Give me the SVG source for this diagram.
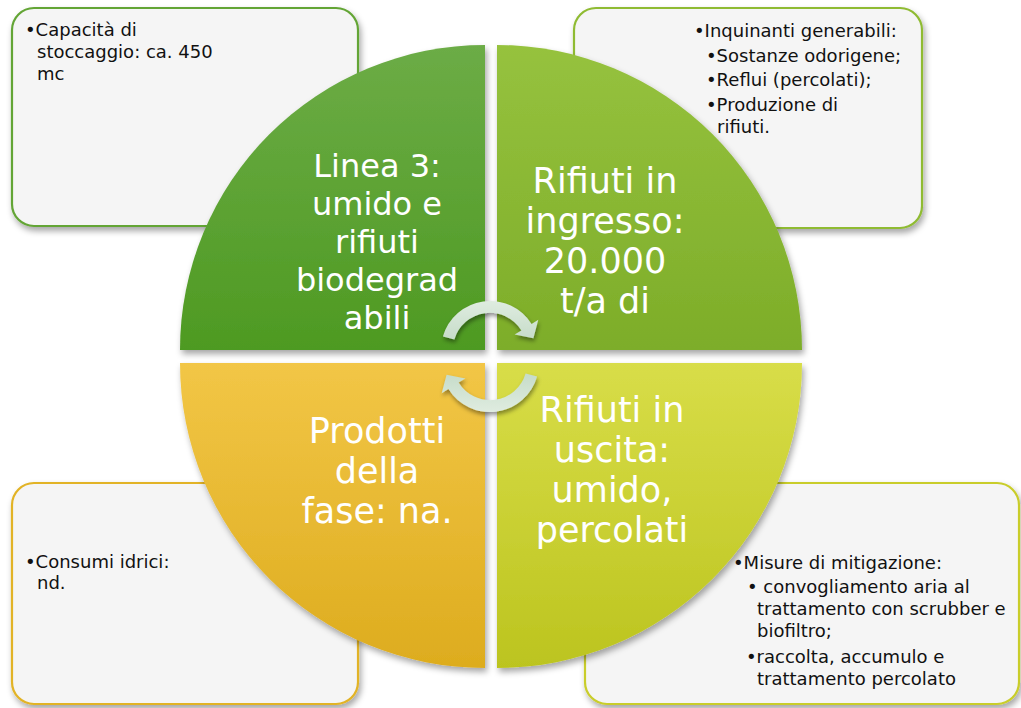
<svg xmlns="http://www.w3.org/2000/svg" width="1021" height="708" viewBox="0 0 1021 708">
<style>
.box{fill:#f5f5f5;stroke-width:2.2}
.bt{font-family:"DejaVu Sans",sans-serif;font-size:18px;fill:#111}
.qt{font-family:"DejaVu Sans",sans-serif;font-size:35px;fill:#ffffff;text-anchor:middle}
.arr{fill:url(#gArr)}
</style>
<defs>
<filter id="sh" x="-10%" y="-10%" width="125%" height="125%">
<feDropShadow dx="2" dy="4" stdDeviation="3" flood-color="#000" flood-opacity="0.35"/>
</filter>
<filter id="shA" x="-20%" y="-20%" width="150%" height="150%">
<feDropShadow dx="1" dy="3" stdDeviation="2" flood-color="#000" flood-opacity="0.4"/>
</filter>
<linearGradient id="gTL" x1="0" y1="0" x2="0" y2="1"><stop offset="0" stop-color="#6cac46"/><stop offset="1" stop-color="#4e9a22"/></linearGradient>
<linearGradient id="gTR" x1="0" y1="0" x2="0" y2="1"><stop offset="0" stop-color="#96c23e"/><stop offset="1" stop-color="#7dad29"/></linearGradient>
<linearGradient id="gBL" x1="0" y1="0" x2="0" y2="1"><stop offset="0" stop-color="#f2c646"/><stop offset="1" stop-color="#ddac1e"/></linearGradient>
<linearGradient id="gBR" x1="0" y1="0" x2="0" y2="1"><stop offset="0" stop-color="#d8dd48"/><stop offset="1" stop-color="#bcc41f"/></linearGradient>
<linearGradient id="gArr" x1="0" y1="0" x2="0" y2="1"><stop offset="0" stop-color="#dfece0"/><stop offset="1" stop-color="#c6dcc9"/></linearGradient>
</defs>

<g id="box-tl">
<rect class="box" x="12" y="8" width="346" height="218" rx="22" stroke="#64a536" filter="url(#sh)"/>
<text class="bt" x="25" y="36">•Capacità di</text>
<text class="bt" x="37" y="58">stoccaggio: ca. 450</text>
<text class="bt" x="37" y="80">mc</text>
</g>
<g id="box-tr">
<rect class="box" x="574" y="8" width="348" height="220" rx="22" stroke="#8fbb33" filter="url(#sh)"/>
<text class="bt" x="694" y="37">•Inquinanti generabili:</text>
<text class="bt" x="706" y="62">•Sostanze odorigene;</text>
<text class="bt" x="706" y="86">•Reflui (percolati);</text>
<text class="bt" x="706" y="111">•Produzione di</text>
<text class="bt" x="717" y="133">rifiuti.</text>
</g>
<g id="box-bl">
<rect class="box" x="12" y="483" width="346" height="221" rx="22" stroke="#e2b325" filter="url(#sh)"/>
<text class="bt" x="25" y="568">•Consumi idrici:</text>
<text class="bt" x="37" y="589">nd.</text>
</g>
<g id="box-br">
<rect class="box" x="585" y="483" width="434" height="221" rx="22" stroke="#c9cd2b" filter="url(#sh)"/>
<text class="bt" x="733" y="569">•Misure di mitigazione:</text>
<text class="bt" x="747" y="593">• convogliamento aria al</text>
<text class="bt" x="757" y="615">trattamento con scrubber e</text>
<text class="bt" x="757" y="637">biofiltro;</text>
<text class="bt" x="746" y="663">•raccolta, accumulo e</text>
<text class="bt" x="757" y="685">trattamento percolato</text>
</g>

<g id="q-tl">
<path d="M485,350 L180,350 A305,305 0 0 1 485,45 Z" fill="url(#gTL)" filter="url(#sh)"/>
<text class="qt" style="font-size:32px" x="377" y="177">Linea 3:</text>
<text class="qt" style="font-size:32px" x="377" y="215">umido e</text>
<text class="qt" style="font-size:32px" x="377" y="253">rifiuti</text>
<text class="qt" style="font-size:32px" x="377" y="291">biodegrad</text>
<text class="qt" style="font-size:32px" x="377" y="329">abili</text>
</g>
<g id="q-tr">
<path d="M497,350 L497,45 A305,305 0 0 1 802,350 Z" fill="url(#gTR)" filter="url(#sh)"/>
<text class="qt" x="605" y="193">Rifiuti in</text>
<text class="qt" x="605" y="233">ingresso:</text>
<text class="qt" x="605" y="273">20.000</text>
<text class="qt" x="605" y="313">t/a di</text>
</g>
<g id="q-bl">
<path d="M485,363 L485,668 A305,305 0 0 1 180,363 Z" fill="url(#gBL)" filter="url(#sh)"/>
<text class="qt" x="377" y="443">Prodotti</text>
<text class="qt" x="377" y="483">della</text>
<text class="qt" x="377" y="523">fase: na.</text>
</g>
<g id="q-br">
<path d="M497,363 L802,363 A305,305 0 0 1 497,668 Z" fill="url(#gBR)" filter="url(#sh)"/>
<text class="qt" x="612" y="422">Rifiuti in</text>
<text class="qt" x="612" y="462">uscita:</text>
<text class="qt" x="612" y="502">umido,</text>
<text class="qt" x="612" y="542">percolati</text>
</g>

<g id="connectors" filter="url(#shA)">
<path class="arr" d="M442.9,336.5 A49,49 0 0 1 531.6,324.0 L538.3,319.8 L533.4,338.2 L514.6,334.6 L521.4,330.4 A37,37 0 0 0 454.4,339.4 Z"/>
<path class="arr" d="M442.9,336.5 A49,49 0 0 1 531.6,324.0 L538.3,319.8 L533.4,338.2 L514.6,334.6 L521.4,330.4 A37,37 0 0 0 454.4,339.4 Z" transform="rotate(180 490 356.5)"/>
</g>
</svg>
